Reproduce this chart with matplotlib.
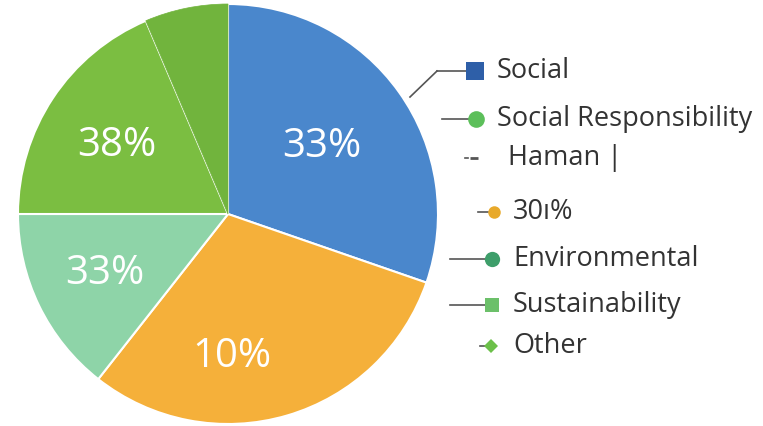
import numpy as np
import matplotlib.pyplot as plt

plt.rcParams['font.family'] = ['Open Sans', 'DejaVu Sans']

# slice shares, clockwise from 12 o'clock
shares = [30.3, 30.3, 14.4, 18.6, 6.4]
slice_colors = ['#4a87cc', '#f5b03a', '#8ed4a8', '#7bbe41', '#71b43d']
pct_labels = ['33%', '10%', '33%', '38%', '']

legend_labels = ['Social', 'Social Responsibility', 'Haman |', '30\u0131%',
                 'Environmental', 'Sustainability', 'Other']
legend_colors = ['#2e5fa8', '#5cbf5a', '#555555', '#e8a92a',
                 '#3e9e6a', '#6cc06a', '#6cc04a']

fig = plt.figure(figsize=(7.63, 4.26), dpi=100)
ax = fig.add_axes([0, 0, 1, 1])

cx, cy, r = 228, 212, 210
wedges, _ = ax.pie(shares, colors=slice_colors, startangle=90, counterclock=False,
                   center=(cx, cy), radius=r, frame=True,
                   wedgeprops=dict(edgecolor='white', linewidth=1.5))
# soften the seam between the two greens
wedges[4].set_edgecolor('#71b43d')
wedges[4].set_linewidth(0.5)
ax.set_xlim(0, 763)
ax.set_ylim(0, 426)
ax.set_aspect('equal')
ax.axis('off')

# percentage text: (angle shift in degrees, radial fraction)
label_pos = [(0, 0.55), (-15, 0.68), (0, 0.65), (2, 0.62), (0, 0.5)]
for w, txt, (shift, frac) in zip(wedges, pct_labels, label_pos):
    if not txt:
        continue
    ang = np.deg2rad((w.theta1 + w.theta2) / 2 + shift)
    ax.text(cx + frac * r * np.cos(ang), cy + frac * r * np.sin(ang), txt,
            color='white', fontsize=29, ha='center', va='center')

# legend rows: (text x, y, marker x, marker, line start x)
rows = [(497, 355, 475, 's', 437),
        (497, 307, 476, 'o', 442),
        (508, 268, 474, '_', 465),
        (513, 214, 494, 'o', 478),
        (513, 167, 492, 'o', 450),
        (513, 121, 492, 's', 450),
        (513, 80, 491, 'D', 480)]
sizes = [13, 12, 6, 9, 11, 10, 7]
for lab, col, (tx, ty, mx, mk, lx), ms in zip(legend_labels, legend_colors, rows, sizes):
    ax.plot([lx, mx - 6], [ty, ty], color='#555555', lw=1.2)
    ax.plot(mx, ty, marker=mk, color=col, markersize=ms, markeredgewidth=2 if mk == '_' else 0)
    ax.text(tx, ty, lab, fontsize=19.5, color='#333333', ha='left', va='center')

# leader from the blue slice to the first legend row
ax.plot([410, 437], [329, 355], color='#555555', lw=1.2)

fig.savefig('out.png', dpi=100)
